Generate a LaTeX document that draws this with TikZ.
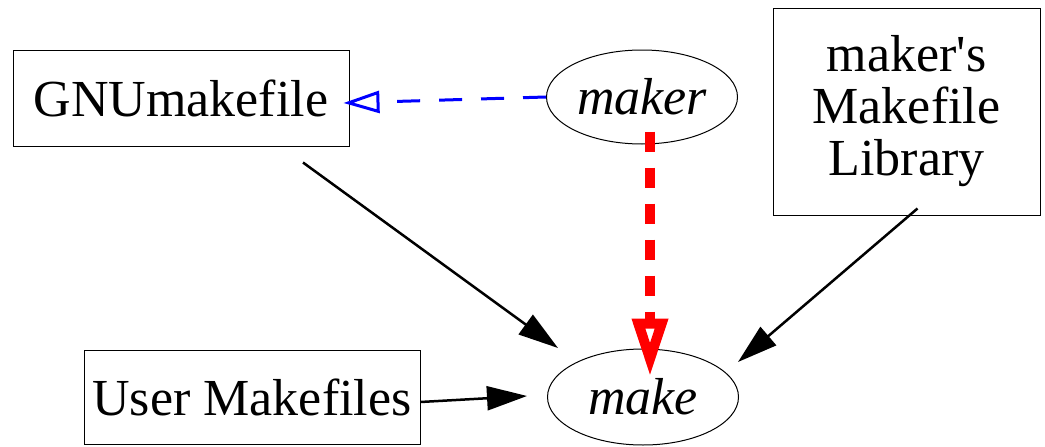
\documentclass[tikz,border=0pt]{standalone}
\usepackage{fontspec}
\setmainfont{Liberation Serif}
\newfontfamily\straightquote{Liberation Serif}[Ligatures=TeXOff]
\usetikzlibrary{arrows.meta,shapes.geometric,calc}
\tikzset{
  box/.style={draw=black, line width=1pt, inner sep=0pt, align=center,
    font=\fontsize{52}{52}\selectfont},
  oval/.style={draw=black, ellipse, line width=1pt, inner sep=0pt,
    minimum width=191pt, minimum height=94pt, font=\fontsize{52}{52}\selectfont\itshape},
  flow/.style={draw=black, line width=2.5pt, -{Triangle[length=40pt,width=24pt]}},
  uses/.style={draw=blue, line width=3pt, dash pattern=on 23pt off 19pt,
    -{Triangle[open,length=36pt,width=22pt,fill=white]}},
  runs/.style={draw=red, line width=10pt, dash pattern=on 20pt off 16pt,
    -{Triangle[open,length=58pt,width=34pt,fill=white]}}
}
\begin{document}
\begin{tikzpicture}[x=1pt,y=-1pt]
\useasboundingbox (0,0) rectangle (1045,447);
\node[box, minimum width=336pt, minimum height=96pt] (gnu) at (181,98) {GNUmakefile};
\node[box, minimum width=267pt, minimum height=207pt] (lib) at (906.5,111.5) {maker{\straightquote '}s\\Makefile\\Library};
\node[box, minimum width=336pt, minimum height=94pt] (user) at (252,397) {User Makefiles};
\node[oval] (maker) at (642,97) {maker};
\node[oval, minimum height=96pt] (make) at (643,397) {make};
\draw[uses] (maker.west) -- ([shift={(-6,5)}]gnu.east);
\draw[runs] ([shift={(8,-13)}]maker.south) -- ([shift={(7,28)}]make.north);
\draw[flow] ([shift={(122,16)}]gnu.south) -- ([shift={(-85,-49)}]make.center);
\draw[flow] ([shift={(11,-7)}]lib.south) -- ([shift={(95,-35)}]make.center);
\draw[flow] ([shift={(0,5)}]user.east) -- ([shift={(-20,-1)}]make.west);
\end{tikzpicture}
\end{document}
